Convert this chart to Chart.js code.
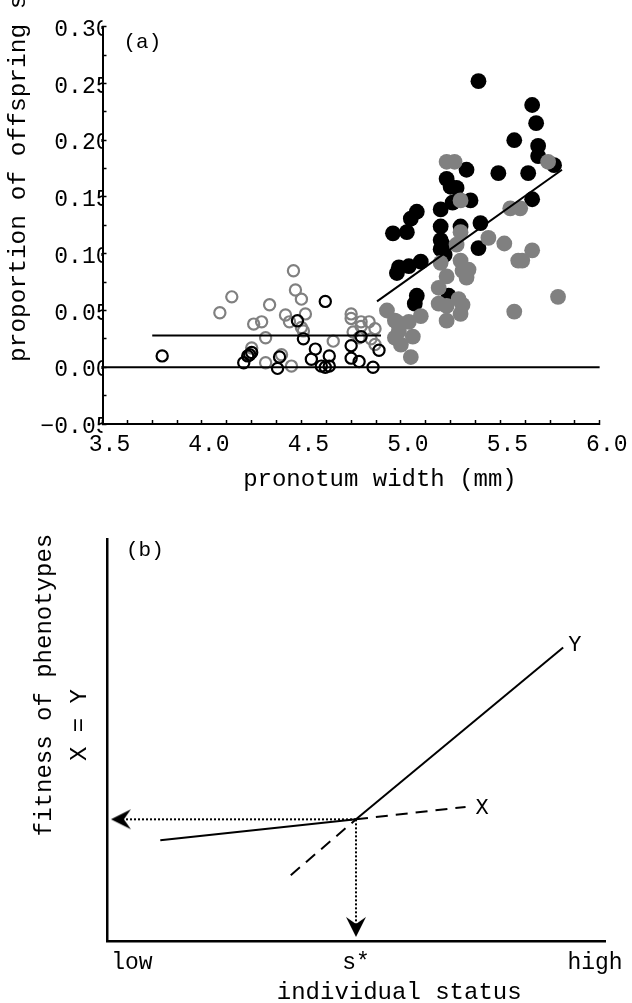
<!DOCTYPE html>
<html>
<head>
<meta charset="utf-8">
<script src="https://cdn.jsdelivr.net/npm/chart.js@4.4.0/dist/chart.umd.min.js"></script>
<style>
  html, body { margin: 0; padding: 0; background: #fff; }
  canvas { display: block; }
</style>
</head>
<body>
<canvas id="chartA" width="632" height="505"></canvas>
<canvas id="chartB" width="632" height="498"></canvas>
<script>
// ---------- panel (a): pronotum width vs proportion of offspring sired ----------
const blackFilledX = [5.39, 5.66, 5.68, 5.57, 5.69, 5.69, 5.77, 5.33, 5.49, 5.64, 5.23, 5.25, 5.28, 5.35, 5.26, 5.66, 5.08, 5.20,
  5.05, 4.96, 5.03, 5.20, 5.30, 5.40, 5.20, 5.21, 5.20, 5.22, 5.39, 5.10, 5.04, 4.99, 4.98, 5.08, 5.07, 5.24];
const blackFilledY = [0.252, 0.231, 0.215, 0.200, 0.195, 0.186, 0.178, 0.174, 0.171, 0.171, 0.166, 0.159, 0.158, 0.147, 0.145, 0.148, 0.137, 0.139,
  0.131, 0.118, 0.119, 0.124, 0.124, 0.127, 0.112, 0.108, 0.104, 0.099, 0.105, 0.093, 0.089, 0.088, 0.083, 0.063, 0.056, 0.063];

const grayFilledX = [5.23, 5.27, 5.74, 5.30, 5.55, 5.60, 5.30, 5.28, 5.44, 5.52, 5.66, 5.59, 5.61, 5.20, 5.30, 5.34, 5.33, 5.31, 5.23,
  5.19, 5.29, 5.31, 5.19, 5.23, 5.30, 5.23, 5.10, 4.93, 5.79, 5.57, 4.98, 5.04, 4.99, 5.06, 4.97, 5.00, 5.05, 4.97];
const grayFilledY = [0.181, 0.181, 0.181, 0.147, 0.140, 0.140, 0.119, 0.108, 0.114, 0.109, 0.103, 0.094, 0.094, 0.092, 0.094, 0.086, 0.079, 0.085, 0.080,
  0.070, 0.060, 0.055, 0.056, 0.054, 0.047, 0.041, 0.045, 0.050, 0.062, 0.049, 0.040, 0.040, 0.032, 0.027, 0.026, 0.020, 0.009, 0.041];

const blackOpenX = [3.80, 4.24, 4.21, 4.23, 4.25, 4.38, 4.39, 4.48, 4.51, 4.57, 4.64, 4.55, 4.60, 4.62, 4.64, 4.62, 4.75, 4.79, 4.75, 4.80, 4.89, 4.86];
const blackOpenY = [0.010, 0.011, 0.004, 0.010, 0.013, -0.001, 0.009, 0.041, 0.025, 0.016, 0.010, 0.007, 0.001, 0.000, 0.001, 0.058, 0.008, 0.005, 0.019, 0.027, 0.015, 0.000];

const grayOpenX = [4.09, 4.15, 4.26, 4.30, 4.25, 4.32, 4.32, 4.34, 4.40, 4.45, 4.46, 4.47, 4.50, 4.52, 4.42, 4.44, 4.50, 4.51, 4.66,
  4.75, 4.75, 4.80, 4.84, 4.80, 4.87, 4.76, 4.79, 4.85, 4.87];
const grayOpenY = [0.048, 0.062, 0.038, 0.040, 0.017, 0.026, 0.004, 0.055, 0.011, 0.001, 0.085, 0.068, 0.060, 0.047, 0.046, 0.040, 0.035, 0.032, 0.023,
  0.047, 0.043, 0.040, 0.040, 0.036, 0.034, 0.031, 0.026, 0.025, 0.020];

// fitted lines
const meanLineX = [3.75, 4.90];
const meanLineY = [0.028, 0.028];
const regLineX = [4.88, 5.81];
const regLineY = [0.058, 0.174];
const zeroLineX = [3.5, 6.0];
const zeroLineY = [0, 0];

// axis ticks (a)
const xTickValuesA = [3.5, 4.0, 4.5, 5.0, 5.5, 6.0];
const xTickLabelsA = ['3.5', '4.0', '4.5', '5.0', '5.5', '6.0'];
const yTickValuesA = [-0.05, 0, 0.05, 0.10, 0.15, 0.20, 0.25, 0.30];
const yTickLabelsA = ['\u22120.05', '0.00', '0.05', '0.10', '0.15', '0.20', '0.25', '0.30'];

// ---------- panel (b): schematic, fitness vs individual status ----------
const xSolidX = [0.107, 0.5];
const xSolidY = [0.251, 0.303];
const xDashX = [0.5, 0.72];
const xDashY = [0.303, 0.334];
const ySolidX = [0.5, 0.916];
const ySolidY = [0.303, 0.731];
const yDashX = [0.369, 0.5];
const yDashY = [0.164, 0.303];
const arrowLeftX = [0.5, 0.028];
const arrowLeftY = [0.303, 0.303];
const arrowDownX = [0.5, 0.5];
const arrowDownY = [0.303, 0.035];

const xTickValuesB = [0.05, 0.5, 0.98];
const xTickLabelsB = ['low', 's*', 'high'];

const FONT = "'Liberation Mono', 'Courier New', monospace";
Chart.defaults.font.family = FONT;
Chart.defaults.color = '#000';

const pts = (xs, ys) => xs.map((x, i) => ({ x: x, y: ys[i] }));

// major ticks carry labels, minor ones only a tick mark
function withMinor(scale, step) {
  const out = [];
  for (let v = scale.min; v <= scale.max + 1e-9; v += step) out.push({ value: +v.toFixed(4) });
  scale.ticks = out;
}
function labelFor(values, labels) {
  return v => {
    const i = values.findIndex(t => Math.abs(t - v) < 1e-6);
    return i < 0 ? '' : labels[i];
  };
}

function makeArrowHead() {
  const c = document.createElement('canvas');
  c.width = 22; c.height = 22;
  const g = c.getContext('2d');
  g.fillStyle = '#000';
  g.beginPath();
  g.moveTo(21, 11); g.lineTo(1, 1); g.lineTo(8, 11); g.lineTo(1, 21);
  g.closePath();
  g.fill();
  return c;
}
const arrowHead = makeArrowHead();

// small text annotations (panel letters, rotated axis titles, line names)
const annotate = {
  id: 'annotate',
  afterDraw(chart, args, opts) {
    const { ctx, chartArea } = chart;
    ctx.save();
    ctx.fillStyle = '#000';
    ctx.textBaseline = 'middle';
    (opts.items || []).forEach(it => {
      let x, y;
      if (it.dataset !== undefined) {
        const els = chart.getDatasetMeta(it.dataset).data;
        const el = els[els.length - 1];
        x = el.x + it.dx; y = el.y + it.dy;
      } else {
        x = chartArea.left + it.dx;
        y = (it.fromBottom ? chartArea.bottom : chartArea.top) + it.dy;
      }
      ctx.font = it.size + 'px ' + FONT;
      ctx.textAlign = it.align || 'left';
      ctx.save();
      ctx.translate(x, y);
      if (it.rotate) ctx.rotate(-Math.PI / 2);
      ctx.fillText(it.text, 0, 0);
      ctx.restore();
    });
    ctx.restore();
  }
};

const lineDs = (xs, ys, extra) => Object.assign({
  data: pts(xs, ys), showLine: true, borderColor: '#000', borderWidth: 2,
  pointRadius: 0, fill: false
}, extra || {});

new Chart(document.getElementById('chartA'), {
  type: 'scatter',
  data: {
    datasets: [
      lineDs(zeroLineX, zeroLineY),
      lineDs(meanLineX, meanLineY),
      lineDs(regLineX, regLineY),
      { data: pts(grayFilledX, grayFilledY), backgroundColor: '#808080', borderWidth: 0, pointRadius: 7.9 },
      { data: pts(blackFilledX, blackFilledY), backgroundColor: '#000', borderWidth: 0, pointRadius: 7.9 },
      { data: pts(blackOpenX, blackOpenY), backgroundColor: 'rgba(0,0,0,0)', borderColor: '#000', borderWidth: 2.2, pointRadius: 5.6 },
      { data: pts(grayOpenX, grayOpenY), backgroundColor: 'rgba(0,0,0,0)', borderColor: '#808080', borderWidth: 2.2, pointRadius: 5.6 }
    ]
  },
  options: {
    responsive: false,
    animation: false,
    events: [],
    layout: { padding: { left: 0, right: 29.5, top: 26.7, bottom: 0 } },
    plugins: {
      legend: { display: false },
      tooltip: { enabled: false },
      annotate: {
        items: [
          { text: '(a)', dx: 21, dy: 16, size: 21 },
          { text: 'proportion of offspring sired', rotate: true, dx: -83.5, dy: -62, fromBottom: true, size: 24.5 }
        ]
      }
    },
    scales: {
      x: {
        type: 'linear', min: 3.5, max: 6.0,
        afterFit: s => { s.height = 81; },
        afterBuildTicks: s => withMinor(s, 0.125),
        grid: { drawOnChartArea: false, drawTicks: true, tickLength: -4, tickWidth: 1.5, color: '#000' },
        border: { display: true, color: '#000', width: 2 },
        ticks: { autoSkip: false, maxRotation: 0, padding: 11.5, labelOffset: 7, font: { size: 23 },
                 callback: labelFor(xTickValuesA, xTickLabelsA) },
        title: { display: true, text: '    pronotum width (mm)', font: { size: 24, lineHeight: 1 }, padding: { top: 0, bottom: 13 } }
      },
      y: {
        type: 'linear', min: -0.05, max: 0.30,
        afterFit: s => { s.width = 102.5; },
        afterBuildTicks: s => withMinor(s, 0.025),
        grid: { drawOnChartArea: false, drawTicks: true, tickLength: -4, tickWidth: 1.5, color: '#000' },
        border: { display: true, color: '#000', width: 2 },
        ticks: { autoSkip: false, padding: -3, labelOffset: 3, font: { size: 23 },
                 callback: labelFor(yTickValuesA, yTickLabelsA) }
      }
    }
  },
  plugins: [annotate]
});

new Chart(document.getElementById('chartB'), {
  type: 'scatter',
  data: {
    datasets: [
      lineDs(xSolidX, xSolidY),
      lineDs(xDashX, xDashY, { borderDash: [12, 8] }),
      lineDs(ySolidX, ySolidY),
      lineDs(yDashX, yDashY, { borderDash: [12, 8] }),
      lineDs(arrowLeftX, arrowLeftY, { borderDash: [2, 2], pointRadius: [0, 10], pointStyle: ['circle', arrowHead], rotation: [0, 180] }),
      lineDs(arrowDownX, arrowDownY, { borderDash: [2, 2], pointRadius: [0, 10], pointStyle: ['circle', arrowHead], rotation: [0, 90] })
    ]
  },
  options: {
    responsive: false,
    animation: false,
    events: [],
    layout: { padding: { left: 0, right: 27, top: 34.5, bottom: 0 } },
    plugins: {
      legend: { display: false },
      tooltip: { enabled: false },
      annotate: {
        items: [
          { text: '(b)', dx: 19, dy: 11, size: 21 },
          { text: 'Y', dataset: 2, dx: 5, dy: -2, size: 22 },
          { text: 'X', dataset: 1, dx: 10, dy: 1, size: 22 },
          { text: 'fitness of phenotypes', rotate: true, dx: -62, dy: 145.5, align: 'center', size: 24 },
          { text: 'X = Y', rotate: true, dx: -27, dy: 185.5, align: 'center', size: 24 }
        ]
      }
    },
    scales: {
      x: {
        type: 'linear', min: 0, max: 1,
        afterFit: s => { s.height = 62; },
        afterBuildTicks: s => { s.ticks = xTickValuesB.map(v => ({ value: v })); },
        grid: { drawOnChartArea: false, drawTicks: false },
        border: { display: true, color: '#000', width: 2.5 },
        ticks: { autoSkip: false, maxRotation: 0, padding: 8, font: { size: 23 },
                 callback: labelFor(xTickValuesB, xTickLabelsB) },
        title: { display: true, text: '      individual status', font: { size: 24, lineHeight: 1 }, padding: { top: 0, bottom: -2 } }
      },
      y: {
        type: 'linear', min: 0, max: 1,
        afterFit: s => { s.width = 107; },
        grid: { drawOnChartArea: false, drawTicks: false },
        border: { display: true, color: '#000', width: 2.5 },
        ticks: { display: false }
      }
    }
  },
  plugins: [annotate]
});
</script>
</body>
</html>
